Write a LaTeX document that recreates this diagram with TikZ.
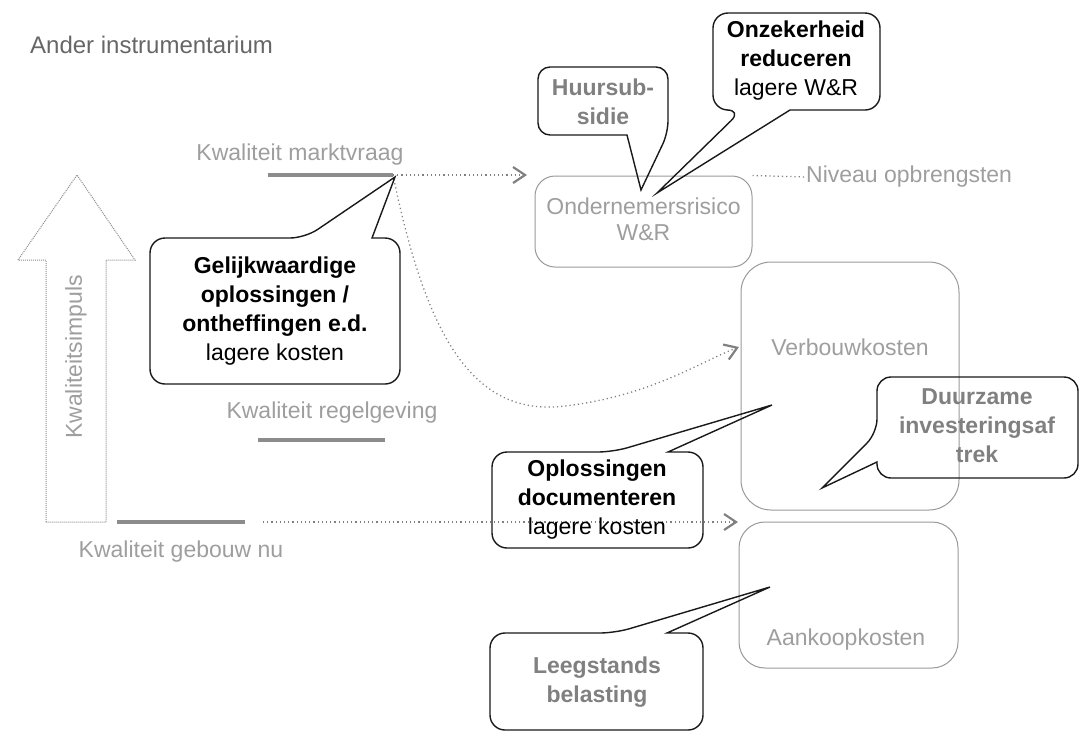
\documentclass[tikz,border=0pt]{standalone}
\usepackage{fontspec}
\setmainfont{Liberation Sans}
\usetikzlibrary{arrows.meta}
\begin{document}
\begin{tikzpicture}[x=1pt,y=-1pt,
  lbl/.style={text=black!38, font=\fontsize{23}{26}\selectfont, inner sep=0pt, align=center},
  btxt/.style={align=center, font=\fontsize{23}{29}\selectfont, inner sep=0pt},
  balloon/.style={draw=black!90, line width=1.4pt, rounded corners=15pt},
  graybox/.style={draw=black!40, line width=1pt, rounded corners=20pt, inner sep=0pt},
  dotline/.style={draw=black!50, line width=1.3pt, dash pattern=on 1.2pt off 3pt},
  tip/.style={-{Straight Barb[length=12pt,width=16pt,line width=2.2pt]}},
  hatch/.style={draw=black!45, line width=4.5pt},
  bigarrow/.style={draw=black!45, line width=1pt, dash pattern=on 1pt off 1pt}]
\useasboundingbox (0,0) rectangle (1082,732);

% title
\node[anchor=west, text=black!60, font=\fontsize{24}{30}\selectfont, inner sep=0pt] (title) at (30,45) {Ander instrumentarium};

% big arrow
\draw[bigarrow] (46,522) -- (46,260) -- (18,260) -- (77,175) -- (135,260) -- (106,260) -- (106,522) -- cycle;
\node[lbl, rotate=90] (imp) at (76,357) {Kwaliteitsimpuls};

% quality labels and bars
\node[lbl] (mv) at (300,155) {Kwaliteit marktvraag};
\coordinate (mvL) at (268,175);
\coordinate (mvR) at (393,175);
\draw[hatch] (mvL) -- (mvR);

\node[lbl] (rg) at (332,413) {Kwaliteit regelgeving};
\coordinate (rgL) at (258,440);
\coordinate (rgR) at (385,440);
\draw[hatch] (rgL) -- (rgR);

\node[lbl] (gb) at (181,552) {Kwaliteit gebouw nu};
\coordinate (gbL) at (117,522);
\coordinate (gbR) at (245,522);
\draw[hatch] (gbL) -- (gbR);

% boxes
\node[graybox, minimum width=217pt, minimum height=91pt] (onder) at (643.5,221.5) {};
\node[lbl] (ondertxt) at (643.5,219.5) {Ondernemersrisico\\W\&R};
\node[graybox, minimum width=218pt, minimum height=248pt, rounded corners=30pt] (vb) at (850,386) {};
\node[lbl] (vbtxt) at (850,347) {Verbouwkosten};
\node[graybox, minimum width=219pt, minimum height=146pt, rounded corners=26pt] (ak) at (848.5,595) {};
\node[lbl] (aktxt) at (846,640) {Aankoopkosten};

\node[lbl, anchor=west] (niv) at (806,177) {Niveau opbrengsten};

% connectors
\coordinate (ondIn) at (527,175);
\coordinate (vbIn) at (739,347);
\coordinate (akIn) at (738,522);
\coordinate (gbStart) at (263,522);
\draw[dotline, tip] (mvR) -- (ondIn);
\draw[dotline, tip] (mvR) .. controls (425,330) and (470,418) .. (565,406) .. controls (650,396) and (700,362) .. (vbIn);
\draw[dotline, tip] (gbStart) -- (akIn);
\draw[dotline] (onder.north east) -- (niv.west);

% balloons
\draw[balloon] (372,238) -- (400,238) -- (400,384) -- (150,384) -- (150,238) -- (305,238) [sharp corners] -- (395,177) -- cycle;
\node[btxt] (gl) at (275,311) {\textbf{Gelijkwaardige}\\\textbf{oplossingen /}\\\textbf{ontheffingen e.d.}\\lagere kosten};

\draw[balloon, rounded corners=12pt] (627,135) -- (538,135) -- (538,67) -- (668,67) -- (668,133) [sharp corners] -- (641,190) -- cycle;
\node[btxt, text=black!50] (hs) at (603,102) {\textbf{Huursub-}\\\textbf{sidie}};

\draw[balloon] (790,110) -- (880,110) -- (880,13) -- (713,13) -- (713,110) -- (742,110) [sharp corners] -- (657,193) -- cycle;
\node[btxt] (oz) at (796,61) {\textbf{Onzekerheid}\\\textbf{reduceren}\\lagere W\&R};

\draw[balloon] (668,452) -- (703,452) -- (703,548) -- (492,548) -- (492,452) -- (613,452) [sharp corners] -- (772,405) -- cycle;
\node[btxt] (op) at (597,500) {\textbf{Oplossingen}\\\textbf{documenteren}\\lagere kosten};

\draw[balloon, rounded corners=14pt] (877,462) -- (877,478) -- (1078,478) -- (1078,377) -- (877,377) -- (877,433) [sharp corners] -- (822,488) -- cycle;
\node[btxt, text=black!50] (dz) at (977,426) {\textbf{Duurzame}\\\textbf{investeringsaf}\\\textbf{trek}};

\draw[balloon] (667,633) -- (703,633) -- (703,730) -- (490,730) -- (490,633) -- (615,633) [sharp corners] -- (770,587) -- cycle;
\node[btxt, text=black!50] (lg) at (597,682) {\textbf{Leegstands}\\\textbf{belasting}};
\end{tikzpicture}
\end{document}
